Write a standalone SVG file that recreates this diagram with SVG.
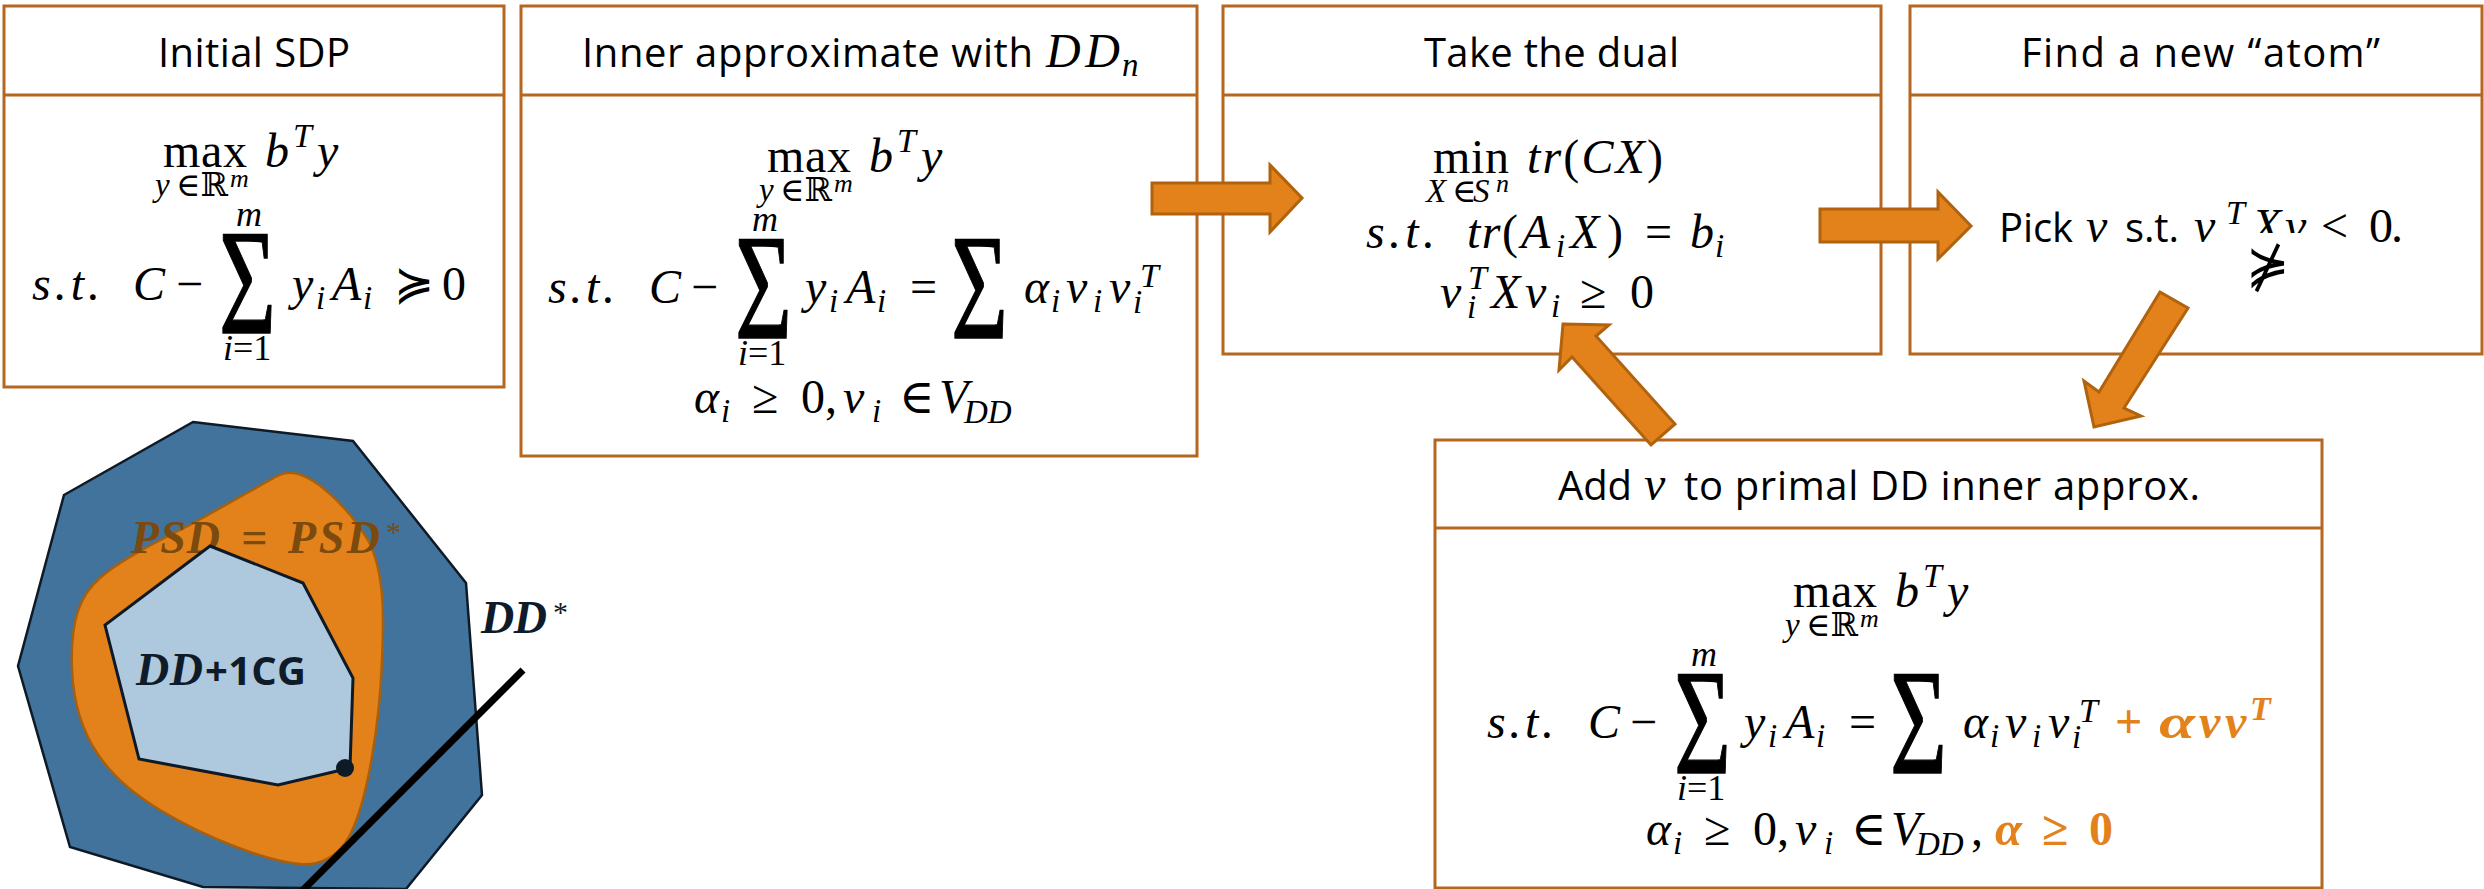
<svg xmlns="http://www.w3.org/2000/svg" width="2484" height="889" viewBox="0 0 2484 889">
<style>
.box{fill:#fff;stroke:#B5671F;stroke-width:3}
.hd{font-family:"Open Sans","Liberation Sans",sans-serif;font-size:40px;fill:#000}
.m{font-family:"Liberation Serif","DejaVu Serif",serif;font-style:italic;font-size:48px;fill:#000}
.u{font-style:normal}
.sb{font-size:33px}
.lm{font-size:36px}
.sp{font-size:34px}
.mm{font-size:26px}
.sig{font-family:"Liberation Serif","DejaVu Serif",serif;font-size:140px;font-style:normal;fill:#000;stroke:#000;stroke-width:1.2}
.or{fill:#E3821A;font-weight:bold}
.arrow{fill:#E3821A;stroke:#B0620F;stroke-width:3}
.fig{font-family:"Liberation Serif","DejaVu Serif",serif;font-weight:bold;font-style:italic;font-size:46px}
.star{font-family:"Liberation Serif","DejaVu Serif",serif;font-size:30px}
</style>
<defs>
<clipPath id="clipXv"><rect x="2240" y="190" width="80" height="43"/></clipPath>
<g id="maxline">
<text class="m u" x="163" y="167" textLength="84">max</text>
<text class="m sb" x="155" y="196">y</text>
<text class="m sb u" x="176" y="196">∈ℝ</text>
<text class="m mm" x="230" y="187">m</text>
<text class="m" x="265" y="167">b</text>
<text class="m sp" x="293" y="147">T</text>
<text class="m" x="317" y="167">y</text>
</g>
<g id="eqline">
<text class="m" x="548" y="303" textLength="67">s.t.</text>
<text class="m" x="649" y="303" textLength="24">C</text>
<text class="m u" x="691" y="303">−</text>
<text class="sig" transform="translate(735,338) scale(0.70,1.07)">Σ</text>
<text class="m lm" x="752" y="231">m</text>
<text class="m lm" x="738" y="365">i<tspan class="u">=1</tspan></text>
<text class="m" x="805" y="303">y</text>
<text class="m sb" x="829" y="312">i</text>
<text class="m" x="846" y="303">A</text>
<text class="m sb" x="877" y="312">i</text>
<text class="m u" x="910" y="303">=</text>
<text class="sig" transform="translate(951,338) scale(0.70,1.07)">Σ</text>
<text class="m" x="1024" y="303" textLength="25" lengthAdjust="spacingAndGlyphs">α</text>
<text class="m sb" x="1051" y="312">i</text>
<text class="m" x="1066" y="303">v</text>
<text class="m sb" x="1093" y="312">i</text>
<text class="m" x="1109" y="303">v</text>
<text class="m sb" x="1133" y="313">i</text>
<text class="m sp" x="1140" y="287">T</text>
</g>
<g id="condline">
<text class="m" x="694" y="413" textLength="25" lengthAdjust="spacingAndGlyphs">α</text>
<text class="m sb" x="721" y="422">i</text>
<text class="m u" x="752" y="413">≥</text>
<text class="m u" x="801" y="413">0</text>
<text class="m u" x="825" y="413">,</text>
<text class="m" x="843" y="413">v</text>
<text class="m sb" x="872" y="422">i</text>
<text class="m u" x="899" y="413">∈</text>
<text class="m" x="939" y="413">V</text>
<text class="m sb" x="964" y="423">DD</text>
</g>
</defs>

<g id="figure">
<polygon points="193,422 353,441 466,583 482,795 406,889 203,887 70,847 18,666 64,495" fill="#41739C" stroke="#0E1A26" stroke-width="2.5"/>
<path d="M287,473 C312,470 350,510 368,540 C385,572 384,620 382,660 C380,720 368,800 350,835 C338,858 318,866 300,864 C270,862 210,840 160,810 C110,780 75,740 72,670 C70,620 80,595 100,578 C120,560 160,540 190,525 L270,480 C278,475 283,473 287,473 Z" fill="#E3821A" stroke="#A8600E" stroke-width="2.5"/>
<text class="fig" x="131" y="553" fill="#7B4A0E" textLength="89">PSD</text>
<text class="fig" x="241" y="553" fill="#7B4A0E" font-style="normal" textLength="29">=</text>
<text class="fig" x="288" y="553" fill="#7B4A0E" textLength="92">PSD</text>
<text class="star" x="386" y="542" fill="#7B4A0E">*</text>
<polygon points="210,546 303,583 353,678 350,768 278,785 139,759 105,625" fill="#AEC8DE" stroke="#0E1A26" stroke-width="3"/>
<text class="fig" x="136" y="685" fill="#0F1B28" textLength="67">DD</text>
<text x="205" y="685" font-family="Open Sans, Liberation Sans, sans-serif" font-weight="bold" font-size="40" fill="#0F1B28" textLength="101">+1CG</text>
<circle cx="345" cy="768" r="9" fill="#0E1A26"/>
<line x1="523" y1="670" x2="300" y2="893" stroke="#000" stroke-width="7"/>
<text class="fig" x="481" y="633" fill="#0F1B28" textLength="66">DD</text>
<text class="star" x="553" y="622" fill="#0F1B28">*</text>
</g>

<g id="initial-sdp">
<rect class="box" x="4" y="6" width="500" height="381"/>
<line x1="4" y1="95" x2="504" y2="95" stroke="#B5671F" stroke-width="3"/>
<text class="hd" x="158" y="67" textLength="192">Initial SDP</text>
<use href="#maxline"/>
<text class="m" x="32" y="300" textLength="68">s.t.</text>
<text class="m" x="133" y="300" textLength="24">C</text>
<text class="m u" x="176" y="300">−</text>
<text class="sig" transform="translate(219,333) scale(0.70,1.07)">Σ</text>
<text class="m lm" x="236" y="226">m</text>
<text class="m lm" x="223" y="360">i<tspan class="u">=1</tspan></text>
<text class="m" x="292" y="300">y</text>
<text class="m sb" x="316" y="309">i</text>
<text class="m" x="332" y="300">A</text>
<text class="m sb" x="363" y="309">i</text>
<text class="m u" x="394" y="300" textLength="30">≽</text>
<text class="m u" x="442" y="300">0</text>
</g>

<g id="inner-approx">
<rect class="box" x="521" y="6" width="676" height="450"/>
<line x1="521" y1="95" x2="1197" y2="95" stroke="#B5671F" stroke-width="3"/>
<text class="hd" x="582" y="67" textLength="451">Inner approximate with</text>
<text class="m" x="1046" y="67" font-size="46" textLength="74">DD</text>
<text class="m sb" x="1122" y="76">n</text>
<use href="#maxline" transform="translate(604,5)"/>
<use href="#eqline"/>
<use href="#condline"/>
</g>

<g id="take-dual">
<rect class="box" x="1223" y="6" width="658" height="348"/>
<line x1="1223" y1="95" x2="1881" y2="95" stroke="#B5671F" stroke-width="3"/>
<text class="hd" x="1424" y="67" textLength="255">Take the dual</text>
<text class="m u" x="1433" y="173" textLength="76">min</text>
<text class="m" x="1527" y="173" textLength="136">tr<tspan class="u">(</tspan>CX<tspan class="u">)</tspan></text>
<text class="m sb" x="1426" y="202">X</text>
<text class="m sb u" x="1452" y="202">∈</text>
<text class="m sb" x="1473" y="202">S</text>
<text class="m mm" x="1496" y="192">n</text>
<text class="m" x="1366" y="248" textLength="69">s.t.</text>
<text class="m" x="1467" y="248" textLength="51">tr<tspan class="u">(</tspan></text>
<text class="m" x="1521" y="248">A</text>
<text class="m sb" x="1556" y="257">i</text>
<text class="m" x="1570" y="248" textLength="53">X<tspan class="u">)</tspan></text>
<text class="m u" x="1645" y="248">=</text>
<text class="m" x="1690" y="248">b</text>
<text class="m sb" x="1715" y="257">i</text>
<text class="m" x="1440" y="308">v</text>
<text class="m sp" x="1468" y="289">T</text>
<text class="m sb" x="1467" y="318">i</text>
<text class="m" x="1491" y="308">X</text>
<text class="m" x="1525" y="308">v</text>
<text class="m sb" x="1551" y="317">i</text>
<text class="m u" x="1580" y="308">≥</text>
<text class="m u" x="1630" y="308">0</text>
</g>

<g id="find-atom">
<rect class="box" x="1910" y="6" width="572" height="348"/>
<line x1="1910" y1="95" x2="2482" y2="95" stroke="#B5671F" stroke-width="3"/>
<text class="hd" x="2021" y="67" textLength="359">Find a new “atom”</text>
<text class="hd" x="1999" y="242" textLength="74">Pick</text>
<text class="m" x="2086" y="242">v</text>
<text class="hd" x="2125" y="242" textLength="54">s.t.</text>
<text class="m" x="2194" y="242">v</text>
<text class="m sp" x="2226" y="224">T</text>
<g clip-path="url(#clipXv)">
<text class="m" x="2252" y="242">X</text>
<text class="m" x="2285" y="242">v</text>
</g>
<text x="2246" y="283" font-family="DejaVu Serif, serif" font-size="52" fill="#000">⋡</text>
<text class="m u" x="2321" y="242">&lt;</text>
<text class="m u" x="2369" y="242" textLength="34">0.</text>
</g>

<g id="add-atom">
<rect class="box" x="1435" y="440" width="887" height="448"/>
<line x1="1435" y1="528" x2="2322" y2="528" stroke="#B5671F" stroke-width="3"/>
<text class="hd" x="1558" y="500" textLength="74">Add</text>
<text class="m" x="1644" y="500">v</text>
<text class="hd" x="1684" y="500" textLength="516">to primal DD inner approx.</text>
<use href="#maxline" transform="translate(1630,440)"/>
<use href="#eqline" transform="translate(939,435)"/>
<text class="m u or" x="2115" y="738">+</text>
<text class="m or" x="2159" y="738" textLength="36" lengthAdjust="spacingAndGlyphs">α</text>
<text class="m or" x="2199" y="738">v</text>
<text class="m or" x="2225" y="738">v</text>
<text class="m sp or" x="2250" y="720">T</text>
<use href="#condline" transform="translate(952,432)"/>
<text class="m u" x="1971" y="845">,</text>
<text class="m or" x="1995" y="845" textLength="27" lengthAdjust="spacingAndGlyphs">α</text>
<text class="m u or" x="2042" y="845">≥</text>
<text class="m u or" x="2089" y="845">0</text>
</g>

<g id="connectors">
<polygon class="arrow" points="1152,183 1270,183 1270,165 1302,198 1270,232 1270,214 1152,214"/>
<polygon class="arrow" points="1820,209 1938,209 1938,192 1971,226 1938,259 1938,242 1820,242"/>
<polygon class="arrow" points="2160,292 2188,308 2124,408 2141,416 2094,427 2084,381 2099,392"/>
<polygon class="arrow" points="1563,324 1609,325 1596,336 1675,424 1651,445 1572,357 1559,370"/>
</g>
</svg>
